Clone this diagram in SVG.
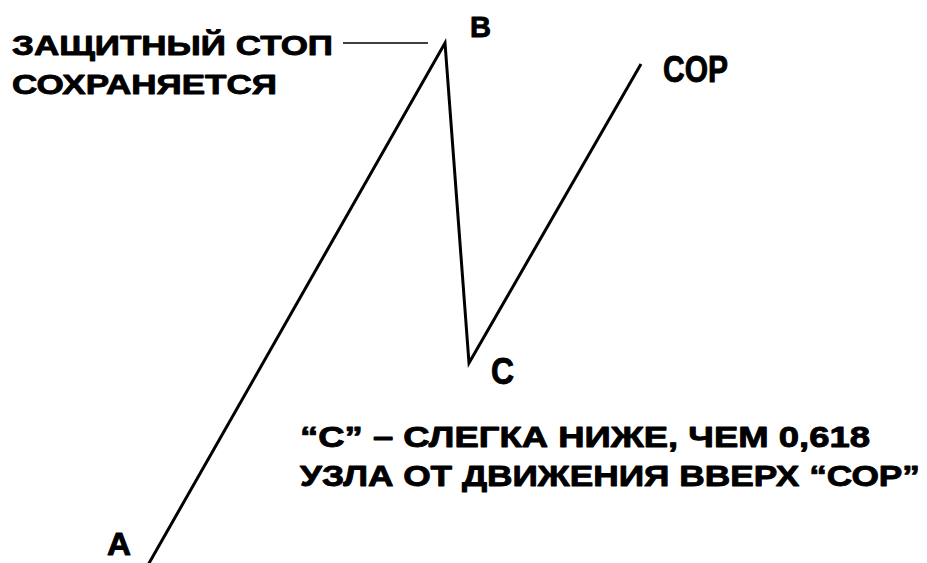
<svg xmlns="http://www.w3.org/2000/svg" width="927" height="563" viewBox="0 0 927 563">
<style>
text{font-family:"Liberation Sans",Arial,sans-serif;font-weight:bold;fill:#000;stroke:#000;stroke-width:0.9;stroke-linejoin:round}
.t{font-size:28px}
.lbl{font-size:30px}
.big{font-size:36px}
.wave{fill:none;stroke:#000;stroke-width:3;stroke-linejoin:miter}
.lead{stroke:#000;stroke-width:1.5}
</style>
<rect width="927" height="563" fill="#fff"/>
<g id="connectors">
<polyline class="wave" points="148,565 445,43 469,363 641,64"/>
<line class="lead" x1="343" y1="43" x2="428" y2="43"/>
</g>
<g id="label-stop">
<text class="t" x="12" y="55" textLength="321" lengthAdjust="spacingAndGlyphs">ЗАЩИТНЫЙ СТОП</text>
<text class="t" x="12" y="94" textLength="265" lengthAdjust="spacingAndGlyphs">СОХРАНЯЕТСЯ</text>
</g>
<g id="node-A"><text x="107" y="555" style="font-size:32px" textLength="24" lengthAdjust="spacingAndGlyphs">A</text></g>
<g id="node-B"><text class="lbl" x="470" y="37" textLength="21" lengthAdjust="spacingAndGlyphs">B</text></g>
<g id="node-C"><text class="big" x="491" y="384" textLength="23" lengthAdjust="spacingAndGlyphs">C</text></g>
<g id="node-COP"><text class="big" x="663" y="82" textLength="65" lengthAdjust="spacingAndGlyphs">COP</text></g>
<g id="note">
<text class="lbl" x="300" y="447" textLength="570" lengthAdjust="spacingAndGlyphs">“C” – СЛЕГКА НИЖЕ, ЧЕМ 0,618</text>
<text class="lbl" x="300" y="486" textLength="620" lengthAdjust="spacingAndGlyphs">УЗЛА ОТ ДВИЖЕНИЯ ВВЕРХ “СОР”</text>
</g>
</svg>
